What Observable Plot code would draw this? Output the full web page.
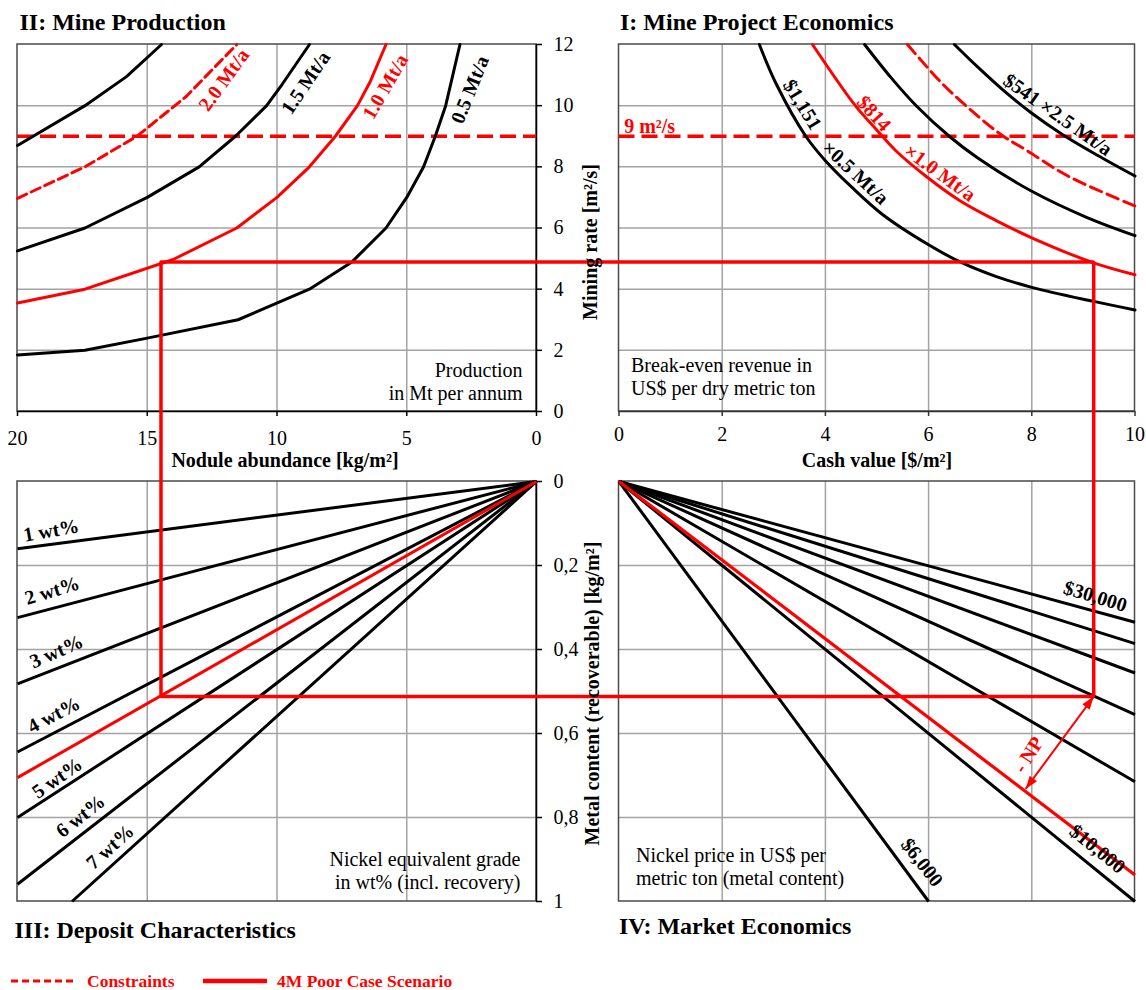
<!DOCTYPE html>
<html>
<head>
<meta charset="utf-8">
<script src="https://cdn.jsdelivr.net/npm/d3@7"></script>
<script src="https://cdn.jsdelivr.net/npm/@observablehq/plot@0.6"></script>
<style>
  html, body { margin: 0; padding: 0; background: #fff; }
  #wrap { position: relative; width: 1146px; height: 990px; font-family: 'Liberation Serif', 'Times New Roman', serif; }
  #chart { position: absolute; left: 0; top: 0; }
  #legend { position: absolute; left: 0; top: 968px; }
</style>
</head>
<body>
<div id="wrap">
  <div id="chart"></div>
  <div id="legend"></div>
</div>
<script>
// ================= DATA =================
// Axis ticks
const abundanceTicks = [20, 15, 10, 5, 0];          // nodule abundance [kg/m²]
const cashTicks = [0, 2, 4, 6, 8, 10];              // cash value [$/m²]
const rateTicks = [0, 2, 4, 6, 8, 10, 12];          // mining rate [m²/s]
const metalTicks = [0, 0.2, 0.4, 0.6, 0.8, 1];      // metal content [kg/m²]
const metalTickLabels = ["0", "0,2", "0,4", "0,6", "0,8", "1"];

// II: Mine production curves  [abundance, mining rate]
const prod05 = [[20,1.85],[17.4,2.0],[15,2.4],[11.5,3.0],[8.75,4.0],[7.1,4.9],[5.8,6.0],[5.0,7.0],[4.35,8.0],[3.9,9.0],[3.5,10.0],[2.95,12.0]];
const prod10 = [[20,3.55],[17.4,4.0],[14.0,4.97],[11.55,6.0],[10.0,7.0],[8.75,8.0],[7.75,9.0],[6.9,10.0],[6.4,10.8],[5.8,12.0]];
const prod15 = [[20,5.25],[17.4,6.0],[15.0,7.0],[13.0,8.0],[11.6,9.0],[10.4,10.0],[9.8,10.7],[8.75,12.0]];
const prod20 = [[20,6.97],[17.4,8.0],[15.4,9.0],[15.0,9.27],[13.5,10.3],[12.7,11.0],[11.55,12.0]];
const prod25 = [[20,8.7],[17.4,10.0],[15.8,10.95],[14.45,12.0]];

// I: Break-even curves  [cash value, mining rate]
const be1151 = [[2.72,12],[3.05,10.7],[3.62,9.0],[4.0,8.2],[4.5,7.35],[5.1,6.45],[6.0,5.45],[6.6,4.9],[7.3,4.42],[8.0,4.06],[9.2,3.6],[10,3.32]];
const be814  = [[3.75,12],[4.58,10.0],[5.0,9.2],[5.35,8.55],[5.98,7.65],[6.6,6.9],[7.3,6.25],[8.0,5.68],[9.2,4.86],[10,4.47]];
const be15   = [[4.76,12],[5.28,10.9],[5.77,9.98],[6.4,9.0],[6.96,8.28],[8.0,7.2],[9.06,6.35],[10,5.75]];
const be20   = [[5.59,12],[6.26,10.73],[6.96,9.65],[7.45,9.0],[7.87,8.57],[8.7,7.7],[10,6.72]];
const be541  = [[6.5,12],[6.96,11.25],[7.45,10.5],[8.0,9.75],[8.6,9.05],[9.27,8.38],[10,7.7]];

// Constraint: maximum mining rate [m²/s]
const maxRate = 9;

// III: Grade lines from origin -> end point [abundance, metal content]
const gradeLabels = ["1 wt%", "2 wt%", "3 wt%", "4 wt%", "5 wt%", "6 wt%", "7 wt%"];
const gradeEndAbundance = [20, 20, 20, 20, 20, 20, 17.9];
const gradeEndMetal = [0.16, 0.324, 0.482, 0.644, 0.80, 0.959, 1.0];
const poorGradeEnd = [20, 0.705];

// IV: Nickel price lines from origin -> end point [cash value, metal content]
const priceLabels = ["$6,000", "$10,000", "$14,000", "$18,000", "$22,000", "$26,000", "$30,000"];
const priceEndCash = [6.0, 10, 10, 10, 10, 10, 10];
const priceEndMetal = [1.0, 1.0, 0.715, 0.555, 0.456, 0.386, 0.335];
const netPriceEnd = [10, 0.937];

// 4M poor case scenario
const poorCase = {abundance: 14.47, rate: 4.886, cash: 9.2, metal: 0.512};
const npArrowFrom = [7.88, 0.732];   // [cash, metal] on net price line

// ================= LAYOUT (composite scales) =================
const RED = "#ff0000", BLACK = "#000000", GRID = "#a3a3a3", FRAME = "#4a4a4a";
const FONT = "'Liberation Serif', 'Times New Roman', serif";
const L = a => -a;      // left panels: abundance (reversed)
const R = c => c + 1;   // right panels: cash value
const T = r => r + 1;   // top panels: mining rate
const B = m => -m;      // bottom panels: metal content (downward)
const xSpec = {type: "linear", domain: [-20, 0, 1, 11], range: [17, 536, 618.5, 1134.5]};
const ySpec = {type: "linear", domain: [-1, 0, 1, 13], range: [901, 481, 411, 44]};

const rows = (series, pts) => pts.map(([u, v]) => ({series, u, v}));
const prodBlack = [...rows("0.5", prod05), ...rows("1.5", prod15), ...rows("2.5", prod25)];
const prodRed = rows("1.0", prod10);
const prodDash = rows("2.0", prod20);
const beBlack = [...rows("1151", be1151), ...rows("1.5", be15), ...rows("541", be541)];
const beRed = rows("814", be814);
const beDash = rows("2.0", be20);

const grades = gradeLabels.map((g, i) => ({g, a: gradeEndAbundance[i], m: gradeEndMetal[i]}));
const prices = priceLabels.map((p, i) => ({p, c: priceEndCash[i], m: priceEndMetal[i]}));

const poorPath = [
  [L(poorCase.abundance), T(poorCase.rate)],
  [R(poorCase.cash), T(poorCase.rate)],
  [R(poorCase.cash), B(poorCase.metal)],
  [L(poorCase.abundance), B(poorCase.metal)],
  [L(poorCase.abundance), T(poorCase.rate)]
];

const panels = [
  {x1: L(20), x2: L(0), y1: T(0), y2: T(12)},
  {x1: R(0), x2: R(10), y1: T(0), y2: T(12)},
  {x1: L(20), x2: L(0), y1: B(0), y2: B(1)},
  {x1: R(0), x2: R(10), y1: B(0), y2: B(1)}
];

// arrow head orientation through the library scales
const sx = Plot.scale({x: xSpec}), sy = Plot.scale({y: ySpec});
const ax0 = sx.apply(R(npArrowFrom[0])), ay0 = sy.apply(B(npArrowFrom[1]));
const ax1 = sx.apply(R(poorCase.cash)), ay1 = sy.apply(B(poorCase.metal));
const headAngle = Math.atan2(ax1 - ax0, -(ay1 - ay0)) * 180 / Math.PI;
const heads = [
  {x: R(poorCase.cash), y: B(poorCase.metal), rot: headAngle},
  {x: R(npArrowFrom[0]), y: B(npArrowFrom[1]), rot: headAngle + 180}
];

const innerAbund = abundanceTicks.filter(t => t > 0 && t < 20);
const innerCash = cashTicks.filter(t => t > 0 && t < 10);
const innerRate = rateTicks.filter(t => t > 0 && t < 12);
const innerMetal = metalTicks.filter(t => t > 0 && t < 1);

const txt = {fontFamily: FONT, fontSize: 20};
const bold = {fontFamily: FONT, fontSize: 20, fontWeight: "bold"};

// curve annotations
const tlLabels = [
  {t: "2.0 Mt/a", a: 12.04, r: 10.84, rot: -54, red: true},
  {t: "1.5 Mt/a", a: 8.89, r: 10.75, rot: -56, red: false},
  {t: "1.0 Mt/a", a: 5.82, r: 10.62, rot: -60, red: true},
  {t: "0.5 Mt/a", a: 2.56, r: 10.52, rot: -68, red: false}
];
const trLabels = [
  {t: "$1,151", c: 3.55, r: 10.03, rot: 58, red: false},
  {t: "×0.5 Mt/a", c: 4.58, r: 7.8, rot: 43, red: false},
  {t: "$814", c: 4.94, r: 9.74, rot: 48, red: true},
  {t: "×1.0 Mt/a", c: 6.22, r: 7.8, rot: 36, red: true},
  {t: "$541 ×2.5 Mt/a", c: 8.5, r: 9.7, rot: 35, red: false}
];
const blLabels = [
  {t: "1 wt%", a: 18.7, m: 0.117, rot: -10},
  {t: "2 wt%", a: 18.66, m: 0.26, rot: -17},
  {t: "3 wt%", a: 18.5, m: 0.405, rot: -24},
  {t: "4 wt%", a: 18.6, m: 0.556, rot: -28},
  {t: "5 wt%", a: 18.47, m: 0.706, rot: -35},
  {t: "6 wt%", a: 17.57, m: 0.797, rot: -38},
  {t: "7 wt%", a: 16.43, m: 0.870, rot: -42}
];
const brLabels = [
  {t: "$30,000", c: 9.23, m: 0.274, rot: 17},
  {t: "$10,000", c: 9.27, m: 0.875, rot: 39},
  {t: "$6,000", c: 5.87, m: 0.907, rot: 52}
];

const marks = [
  // grid
  Plot.ruleX(innerAbund, {x: L, y1: T(0), y2: T(12), stroke: GRID, strokeWidth: 1.5}),
  Plot.ruleY(innerRate, {y: T, x1: L(20), x2: L(0), stroke: GRID, strokeWidth: 1.5}),
  Plot.ruleX(innerCash, {x: R, y1: T(0), y2: T(12), stroke: GRID, strokeWidth: 1.5}),
  Plot.ruleY(innerRate, {y: T, x1: R(0), x2: R(10), stroke: GRID, strokeWidth: 1.5}),
  Plot.ruleX(innerAbund, {x: L, y1: B(0), y2: B(1), stroke: GRID, strokeWidth: 1.5}),
  Plot.ruleY(innerMetal, {y: B, x1: L(20), x2: L(0), stroke: GRID, strokeWidth: 1.5}),
  Plot.ruleX(innerCash, {x: R, y1: B(0), y2: B(1), stroke: GRID, strokeWidth: 1.5}),
  Plot.ruleY(innerMetal, {y: B, x1: R(0), x2: R(10), stroke: GRID, strokeWidth: 1.5}),
  // frames
  Plot.rect(panels, {x1: "x1", x2: "x2", y1: "y1", y2: "y2", fill: "none", stroke: FRAME, strokeWidth: 1.5}),
  // axis lines
  Plot.ruleY([0], {y: T, x1: L(20), x2: L(0), stroke: BLACK, strokeWidth: 1.5}),
  Plot.ruleX([0], {x: L, y1: T(0), y2: T(12), stroke: BLACK, strokeWidth: 1.5}),
  Plot.ruleX([0], {x: L, y1: B(0), y2: B(1), stroke: BLACK, strokeWidth: 1.5}),
  Plot.ruleY([0], {y: T, x1: R(0), x2: R(10), stroke: "#333", strokeWidth: 1.5}),
  // ticks
  Plot.ruleX(abundanceTicks, {x: L, y1: T(0), y2: T(0), insetBottom: -5, stroke: BLACK, strokeWidth: 1.5}),
  Plot.ruleX(cashTicks, {x: R, y1: T(0), y2: T(0), insetBottom: -5, stroke: "#333", strokeWidth: 1.5}),
  Plot.ruleY(rateTicks, {y: T, x1: L(0), x2: L(0), insetRight: -6, stroke: BLACK, strokeWidth: 1.5}),
  Plot.ruleY(metalTicks, {y: B, x1: L(0), x2: L(0), insetRight: -6, stroke: BLACK, strokeWidth: 1.5}),
  // tick labels
  Plot.text(abundanceTicks, {x: L, y: T(0), dy: 27, text: d => String(d), fill: BLACK, ...txt}),
  Plot.text(cashTicks, {x: R, y: T(0), dy: 23, text: d => String(d), fill: BLACK, ...txt}),
  Plot.text(rateTicks, {x: L(0), y: T, dx: 17, textAnchor: "start", text: d => String(d), fill: BLACK, ...txt}),
  Plot.text(metalTicks, {x: L(0), y: B, dx: 17, textAnchor: "start", text: (d, i) => metalTickLabels[i], fill: BLACK, ...txt}),
  // constraint line
  Plot.ruleY([maxRate], {y: T, x1: L(20), x2: L(0), stroke: RED, strokeWidth: 3.5, strokeDasharray: "16,7"}),
  Plot.ruleY([maxRate], {y: T, x1: R(0), x2: R(10), stroke: RED, strokeWidth: 3.5, strokeDasharray: "16,7"}),
  // II production curves
  Plot.line(prodBlack, {x: d => L(d.u), y: d => T(d.v), z: "series", stroke: BLACK, strokeWidth: 3}),
  Plot.line(prodRed, {x: d => L(d.u), y: d => T(d.v), z: "series", stroke: RED, strokeWidth: 3}),
  Plot.line(prodDash, {x: d => L(d.u), y: d => T(d.v), z: "series", stroke: RED, strokeWidth: 3, strokeDasharray: "10,5"}),
  // I break-even curves
  Plot.line(beBlack, {x: d => R(d.u), y: d => T(d.v), z: "series", stroke: BLACK, strokeWidth: 3, curve: "catmull-rom"}),
  Plot.line(beRed, {x: d => R(d.u), y: d => T(d.v), z: "series", stroke: RED, strokeWidth: 3, curve: "catmull-rom"}),
  Plot.line(beDash, {x: d => R(d.u), y: d => T(d.v), z: "series", stroke: RED, strokeWidth: 3, strokeDasharray: "12,6", curve: "catmull-rom"}),
  // III grade lines
  Plot.link(grades, {x1: L(0), y1: B(0), x2: d => L(d.a), y2: d => B(d.m), stroke: BLACK, strokeWidth: 3}),
  Plot.link([poorGradeEnd], {x1: L(0), y1: B(0), x2: d => L(d[0]), y2: d => B(d[1]), stroke: RED, strokeWidth: 3}),
  // IV price lines
  Plot.link(prices, {x1: R(0), y1: B(0), x2: d => R(d.c), y2: d => B(d.m), stroke: BLACK, strokeWidth: 3}),
  Plot.link([netPriceEnd], {x1: R(0), y1: B(0), x2: d => R(d[0]), y2: d => B(d[1]), stroke: RED, strokeWidth: 3.2}),
  // poor case path
  Plot.line(poorPath, {x: d => d[0], y: d => d[1], stroke: RED, strokeWidth: 3.5, strokeLinejoin: "miter"}),
  // -NP arrow
  Plot.link([0], {x1: R(npArrowFrom[0]), y1: B(npArrowFrom[1]), x2: R(poorCase.cash), y2: B(poorCase.metal), stroke: RED, strokeWidth: 2}),
  Plot.vector(heads, {x: "x", y: "y", rotate: "rot", length: 13, r: 4.5, shape: "spike", anchor: "end", fill: RED, stroke: "none"}),
  Plot.text(["- NP"], {x: R(7.94), y: B(0.651), rotate: -57, text: d => d, fill: RED, ...bold}),
  // curve labels
  Plot.text(tlLabels.filter(d => d.red), {x: d => L(d.a), y: d => T(d.r), rotate: "rot", text: "t", fill: RED, ...bold}),
  Plot.text(tlLabels.filter(d => !d.red), {x: d => L(d.a), y: d => T(d.r), rotate: "rot", text: "t", fill: BLACK, ...bold}),
  Plot.text(trLabels.filter(d => d.red), {x: d => R(d.c), y: d => T(d.r), rotate: "rot", text: "t", fill: RED, ...bold}),
  Plot.text(trLabels.filter(d => !d.red), {x: d => R(d.c), y: d => T(d.r), rotate: "rot", text: "t", fill: BLACK, ...bold}),
  Plot.text(blLabels, {x: d => L(d.a), y: d => B(d.m), rotate: "rot", text: "t", fill: BLACK, ...bold}),
  Plot.text(brLabels, {x: d => R(d.c), y: d => B(d.m), rotate: "rot", text: "t", fill: BLACK, ...bold}),
  Plot.text(["9 m²/s"], {x: R(0.1), y: T(9.32), textAnchor: "start", text: d => d, fill: RED, ...bold}),
  // panel notes
  Plot.text(["Production\nin Mt per annum"], {x: L(0), dx: -14, y: T(0), dy: -30, textAnchor: "end", lineHeight: 1.15, text: d => d, fill: BLACK, ...txt}),
  Plot.text(["Break-even revenue in\nUS$ per dry metric ton"], {x: R(0), dx: 12, y: T(0), dy: -35, textAnchor: "start", lineHeight: 1.15, text: d => d, fill: BLACK, ...txt}),
  Plot.text(["Nickel equivalent grade\nin wt% (incl. recovery)"], {x: L(0), dx: -16, y: B(1), dy: -31, textAnchor: "end", lineHeight: 1.15, text: d => d, fill: BLACK, ...txt}),
  Plot.text(["Nickel price in US$ per\nmetric ton (metal content)"], {x: R(0), dx: 17, y: B(1), dy: -35, textAnchor: "start", lineHeight: 1.15, text: d => d, fill: BLACK, ...txt}),
  // axis titles
  Plot.text(["Nodule abundance [kg/m²]"], {x: L(10), dx: 8, y: T(0), dy: 49, text: d => d, fill: BLACK, ...bold}),
  Plot.text(["Cash value [$/m²]"], {x: R(5), y: T(0), dy: 49, text: d => d, fill: BLACK, ...bold}),
  Plot.text(["Mining rate [m²/s]"], {x: R(0), dx: -28, y: T(6), dy: 14, rotate: -90, text: d => d, fill: BLACK, ...bold}),
  Plot.text(["Metal content (recoverable) [kg/m²]"], {x: R(0), dx: -26, y: B(0.5), dy: 2, rotate: -90, text: d => d, fill: BLACK, ...bold}),
  // quadrant titles
  Plot.text(["II: Mine Production"], {x: L(20), dx: 2, y: T(12), dy: -22, textAnchor: "start", text: d => d, fill: BLACK, fontFamily: FONT, fontSize: 24, fontWeight: "bold"}),
  Plot.text(["I: Mine Project Economics"], {x: R(0), dx: 1, y: T(12), dy: -22, textAnchor: "start", text: d => d, fill: BLACK, fontFamily: FONT, fontSize: 24, fontWeight: "bold"}),
  Plot.text(["III: Deposit Characteristics"], {x: L(20), dx: -3, y: B(1), dy: 29, textAnchor: "start", text: d => d, fill: BLACK, fontFamily: FONT, fontSize: 24, fontWeight: "bold"}),
  Plot.text(["IV: Market Economics"], {x: R(0), dx: 0, y: B(1), dy: 25, textAnchor: "start", text: d => d, fill: BLACK, fontFamily: FONT, fontSize: 24, fontWeight: "bold"})
];

const chart = Plot.plot({
  width: 1146,
  height: 962,
  margin: 0,
  x: {...xSpec, axis: null},
  y: {...ySpec, axis: null},
  style: {fontFamily: FONT, background: "#ffffff", overflow: "visible"},
  marks
});
document.getElementById("chart").appendChild(chart);

// legend
const legendItems = [
  {label: "Constraints", dash: "7,4", width: 3, x0: 11, x1: 76, tx: 87},
  {label: "4M Poor Case Scenario", dash: null, width: 4.5, x0: 203, x1: 267, tx: 277}
];
const lg = d3.select("#legend").append("svg").attr("width", 1146).attr("height", 24);
legendItems.forEach(it => {
  lg.append("line").attr("x1", it.x0).attr("x2", it.x1).attr("y1", 13).attr("y2", 13)
    .attr("stroke", RED).attr("stroke-width", it.width).attr("stroke-dasharray", it.dash);
  lg.append("text").attr("x", it.tx).attr("y", 13).attr("dy", "0.35em")
    .attr("fill", RED).attr("font-family", FONT).attr("font-weight", "bold").attr("font-size", 17.5)
    .text(it.label);
});
</script>
</body>
</html>
